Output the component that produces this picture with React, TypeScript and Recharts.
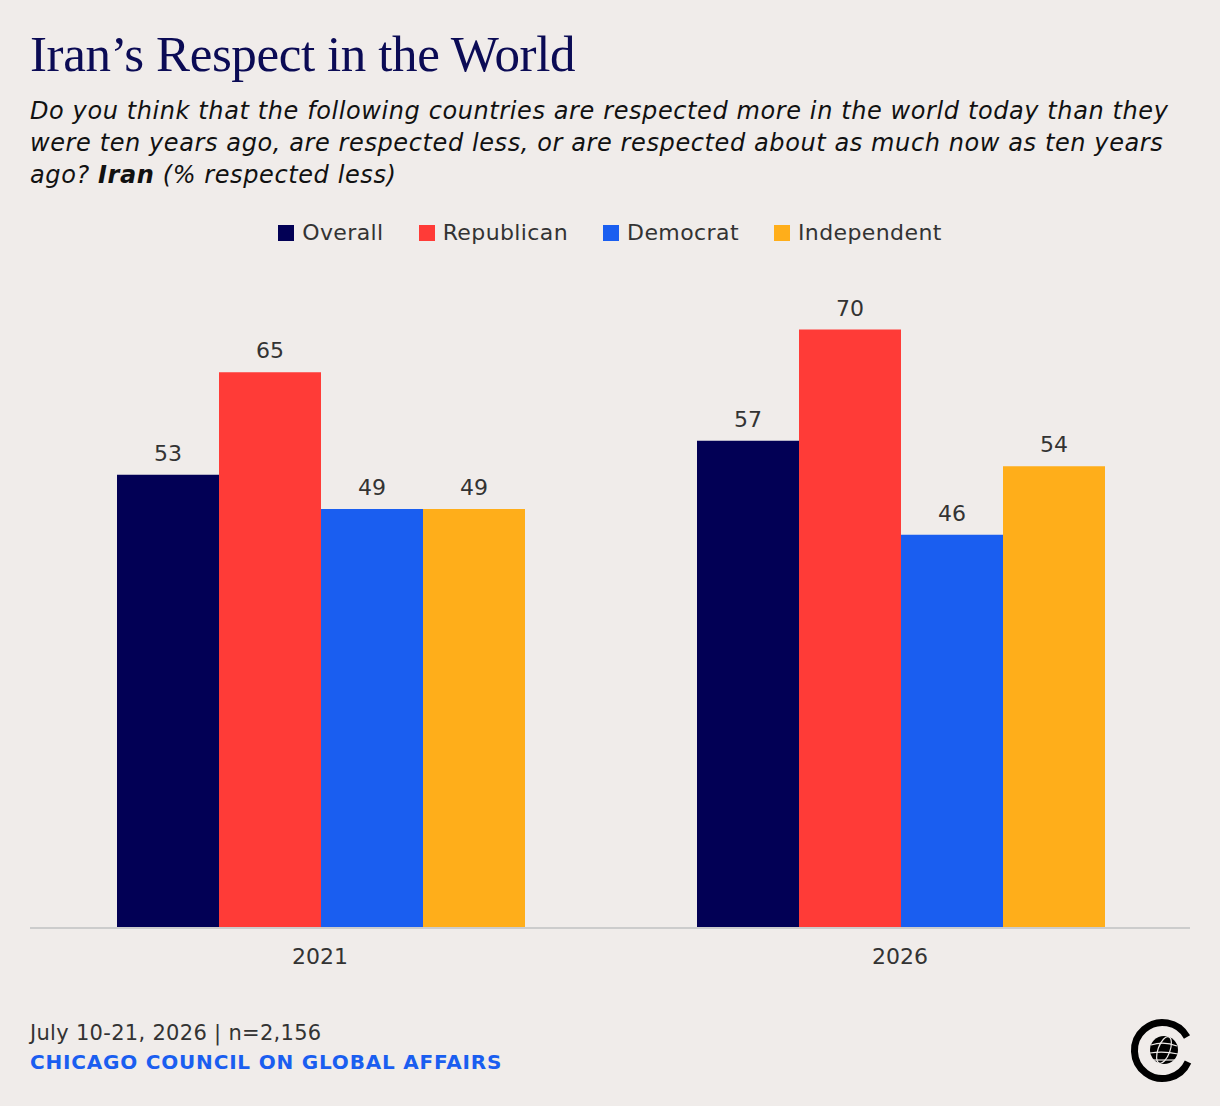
import React from 'react';
import { BarChart, Bar, XAxis, YAxis, Legend, LabelList } from 'recharts';

const years = ['2021', '2026'];
const overall = [53, 57];
const republican = [65, 70];
const democrat = [49, 46];
const independent = [49, 54];

const seriesNames = ['Overall', 'Republican', 'Democrat', 'Independent'];
const seriesKeys = ['overall', 'republican', 'democrat', 'independent'];
const seriesColors = ['#020055', '#ff3b37', '#1a5ef0', '#ffae1a'];

const data = years.map((year, i) => ({
  year,
  overall: overall[i],
  republican: republican[i],
  democrat: democrat[i],
  independent: independent[i],
}));

const SANS = '"DejaVu Sans", "Noto Sans", sans-serif';
const BG = '#f0ecea';

// page has a default 8px margin and white body; paint it to match
if (typeof document !== 'undefined') {
  document.body.style.margin = '0';
  document.body.style.background = BG;
}

const LegendRow = () => (
  <div style={{ display: 'flex', justifyContent: 'center', alignItems: 'center', fontFamily: SANS, fontSize: 22, letterSpacing: 0.4, color: '#333' }}>
    {seriesNames.map((name, i) => (
      <div key={name} style={{ display: 'flex', alignItems: 'center', marginRight: i < seriesNames.length - 1 ? 35 : 0 }}>
        <span style={{ width: 16, height: 16, background: seriesColors[i], display: 'inline-block', marginRight: 8 }} />
        <span>{name}</span>
      </div>
    ))}
  </div>
);

const Logo = () => (
  <svg width={70} height={70} style={{ position: 'absolute', left: 1127, top: 1015 }} viewBox="0 0 70 70">
    <path d="M 60 22 A 28 28 0 1 0 61 47" fill="none" stroke="#000" strokeWidth={7} />
    <circle cx={37} cy={35} r={14} fill="#000" />
    <g fill="none" stroke="#f0ecea" strokeWidth={1.2}>
      <ellipse cx={37} cy={35} rx={6} ry={14} transform="rotate(20 37 35)" />
      <path d="M 24 30 Q 37 26 50 31" />
      <path d="M 23 38 Q 37 36 51 39" />
      <path d="M 26 45 Q 37 45 48 45" />
    </g>
  </svg>
);

export default function App() {
  return (
    <div style={{ position: 'relative', width: 1220, height: 1106, background: BG, overflow: 'hidden' }}>
      <div style={{ position: 'absolute', left: 30, top: 25, fontFamily: '"Liberation Serif", "Times New Roman", serif', fontSize: 51, color: '#0b0b55', letterSpacing: -0.4 }}>
        Iran’s Respect in the World
      </div>
      <div style={{ position: 'absolute', left: 30, top: 95, width: 1185, fontFamily: SANS, fontStyle: 'italic', fontSize: 24, letterSpacing: 0.6, lineHeight: '32px', color: '#111', whiteSpace: 'nowrap' }}>
        Do you think that the following countries are respected more in the world today than they<br />
        were ten years ago, are respected less, or are respected about as much now as ten years<br />
        ago? <b>Iran</b> (% respected less)
      </div>
      <div style={{ position: 'absolute', left: 0, top: 0 }}>
        <BarChart
          width={1220}
          height={1000}
          data={data}
          margin={{ top: 244, right: 30, left: 30, bottom: 32 }}
          barCategoryGap="15%"
          barGap={0}
        >
          <XAxis
            dataKey="year"
            axisLine={{ stroke: '#cccccc', strokeWidth: 2 }}
            tickLine={false}
            tickMargin={14}
            height={40}
            tick={{ fill: '#333', fontSize: 22, fontFamily: SANS }}
          />
          <YAxis hide domain={[0, 80]} />
          <Legend
            verticalAlign="middle"
            align="center"
            wrapperStyle={{ top: 220, left: 0, width: 1220 }}
            content={() => <LegendRow />}
          />
          {seriesKeys.map((key, i) => (
            <Bar key={key} dataKey={key} name={seriesNames[i]} fill={seriesColors[i]} isAnimationActive={false}>
              <LabelList dataKey={key} position="top" offset={14} fill="#333" fontSize={22} fontFamily={SANS} />
            </Bar>
          ))}
        </BarChart>
      </div>
      <div style={{ position: 'absolute', left: 30, top: 1021, fontFamily: SANS, fontSize: 21, letterSpacing: 0.3, color: '#333' }}>
        July 10-21, 2026 | n=2,156
      </div>
      <div style={{ position: 'absolute', left: 30, top: 1050, fontFamily: SANS, fontSize: 20, letterSpacing: 0.8, color: '#1a5ef0', fontWeight: 700 }}>
        CHICAGO COUNCIL ON GLOBAL AFFAIRS
      </div>
      <Logo />
    </div>
  );
}
